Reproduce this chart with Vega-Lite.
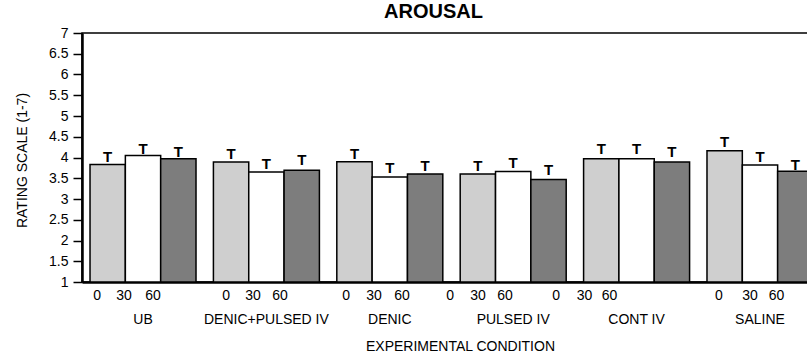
{
  "$schema": "https://vega.github.io/schema/vega-lite/v6.json",
  "autosize": {"type": "none"},
  "padding": {"left": 82, "top": 33, "right": 0, "bottom": 76},
  "width": 739,
  "height": 249,
  "background": "white",
  "config": {
    "view": {"stroke": "black", "strokeWidth": 1.5},
    "font": "Liberation Sans",
    "axisY": {
      "grid": false, "tickSize": 9, "tickWidth": 1.5, "tickColor": "black",
      "labelPadding": 5, "labelFontSize": 14, "labelColor": "black", "labelOverlap": false,
      "domainColor": "black", "domainWidth": 2.5,
      "titleFontSize": 14, "titleFontWeight": "normal", "titleColor": "black",
      "titleX": -60, "titleY": 127, "titleAngle": -90, "titleBaseline": "middle"
    },
    "axisX": {
      "labelAngle": 0, "labelFontSize": 14, "labelColor": "black", "labelPadding": 30, "labelOverlap": false,
      "ticks": false, "tickSize": 0, "domainColor": "black", "domainWidth": 2.5,
      "titleFontSize": 14, "titleFontWeight": "normal", "titleColor": "black",
      "titlePadding": 13, "titleX": 378
    }
  },
  "title": {"text": "AROUSAL", "fontSize": 20, "fontWeight": "bold", "font": "Liberation Sans", "color": "black", "frame": "group", "anchor": "middle", "dx": -18, "offset": 4},
  "datasets": {
    "bars": [
      {"condition": "UB", "time": "0", "mean": 3.83, "upper": 4.16},
      {"condition": "UB", "time": "30", "mean": 4.05, "upper": 4.35},
      {"condition": "UB", "time": "60", "mean": 3.97, "upper": 4.27},
      {"condition": "DENIC+PULSED IV", "time": "0", "mean": 3.89, "upper": 4.24},
      {"condition": "DENIC+PULSED IV", "time": "30", "mean": 3.65, "upper": 4.0},
      {"condition": "DENIC+PULSED IV", "time": "60", "mean": 3.69, "upper": 4.08},
      {"condition": "DENIC", "time": "0", "mean": 3.9, "upper": 4.24},
      {"condition": "DENIC", "time": "30", "mean": 3.53, "upper": 3.88},
      {"condition": "DENIC", "time": "60", "mean": 3.6, "upper": 3.93},
      {"condition": "PULSED IV", "time": "0", "mean": 3.6, "upper": 3.93},
      {"condition": "PULSED IV", "time": "30", "mean": 3.66, "upper": 4.01},
      {"condition": "PULSED IV", "time": "60", "mean": 3.47, "upper": 3.85},
      {"condition": "CONT IV", "time": "0", "mean": 3.97, "upper": 4.35},
      {"condition": "CONT IV", "time": "30", "mean": 3.97, "upper": 4.35},
      {"condition": "CONT IV", "time": "60", "mean": 3.89, "upper": 4.27},
      {"condition": "SALINE", "time": "0", "mean": 4.16, "upper": 4.51},
      {"condition": "SALINE", "time": "30", "mean": 3.82, "upper": 4.16},
      {"condition": "SALINE", "time": "60", "mean": 3.67, "upper": 3.97}
    ],
    "ticklabels": [
      {"condition": "UB", "label": "0", "pos": 0.066},
      {"condition": "UB", "label": "30", "pos": 0.321},
      {"condition": "UB", "label": "60", "pos": 0.594},
      {"condition": "DENIC+PULSED IV", "label": "0", "pos": 0.119},
      {"condition": "DENIC+PULSED IV", "label": "30", "pos": 0.374},
      {"condition": "DENIC+PULSED IV", "label": "60", "pos": 0.628},
      {"condition": "DENIC", "label": "0", "pos": 0.087},
      {"condition": "DENIC", "label": "30", "pos": 0.351},
      {"condition": "DENIC", "label": "60", "pos": 0.615},
      {"condition": "PULSED IV", "label": "0", "pos": -0.096},
      {"condition": "PULSED IV", "label": "30", "pos": 0.168},
      {"condition": "PULSED IV", "label": "60", "pos": 0.423},
      {"condition": "CONT IV", "label": "0", "pos": -0.26},
      {"condition": "CONT IV", "label": "30", "pos": 0.008},
      {"condition": "CONT IV", "label": "60", "pos": 0.244},
      {"condition": "SALINE", "label": "0", "pos": 0.113},
      {"condition": "SALINE", "label": "30", "pos": 0.406},
      {"condition": "SALINE", "label": "60", "pos": 0.656}
    ]
  },
  "encoding": {
    "x": {
      "field": "condition", "type": "nominal",
      "scale": {"domain": ["UB", "DENIC+PULSED IV", "DENIC", "PULSED IV", "CONT IV", "SALINE"], "paddingInner": 0.141, "paddingOuter": 0.065},
      "axis": {"title": "EXPERIMENTAL CONDITION"}
    },
    "y": {
      "type": "quantitative",
      "scale": {"domain": [1, 7], "zero": false, "nice": false},
      "axis": {"title": "RATING SCALE (1-7)", "values": [1, 1.5, 2, 2.5, 3, 3.5, 4, 4.5, 5, 5.5, 6, 6.5, 7], "labelExpr": "datum.value"}
    }
  },
  "layer": [
    {
      "data": {"name": "bars"},
      "mark": {"type": "bar", "stroke": "black", "strokeWidth": 1.5},
      "encoding": {
        "xOffset": {"field": "time", "type": "nominal", "scale": {"domain": ["0", "30", "60"], "paddingInner": 0, "paddingOuter": 0}},
        "y": {"field": "mean", "type": "quantitative"},
        "y2": {"datum": 1},
        "fill": {"field": "time", "type": "nominal", "scale": {"domain": ["0", "30", "60"], "range": ["#cfcfcf", "#ffffff", "#7d7d7d"]}, "legend": null}
      }
    },
    {
      "data": {"name": "bars"},
      "mark": {"type": "text", "text": "T", "baseline": "top", "fontSize": 15, "fontWeight": "bold", "color": "black", "dy": -1},
      "encoding": {
        "xOffset": {"field": "time", "type": "nominal"},
        "y": {"field": "upper", "type": "quantitative"}
      }
    },
    {
      "data": {"name": "ticklabels"},
      "mark": {"type": "text", "baseline": "top", "fontSize": 14, "color": "black", "dy": 7},
      "encoding": {
        "xOffset": {"field": "pos", "type": "quantitative", "scale": {"domain": [0, 1]}},
        "y": {"datum": 1, "type": "quantitative"},
        "text": {"field": "label"}
      }
    }
  ],
  "resolve": {"scale": {"xOffset": "independent"}}
}
